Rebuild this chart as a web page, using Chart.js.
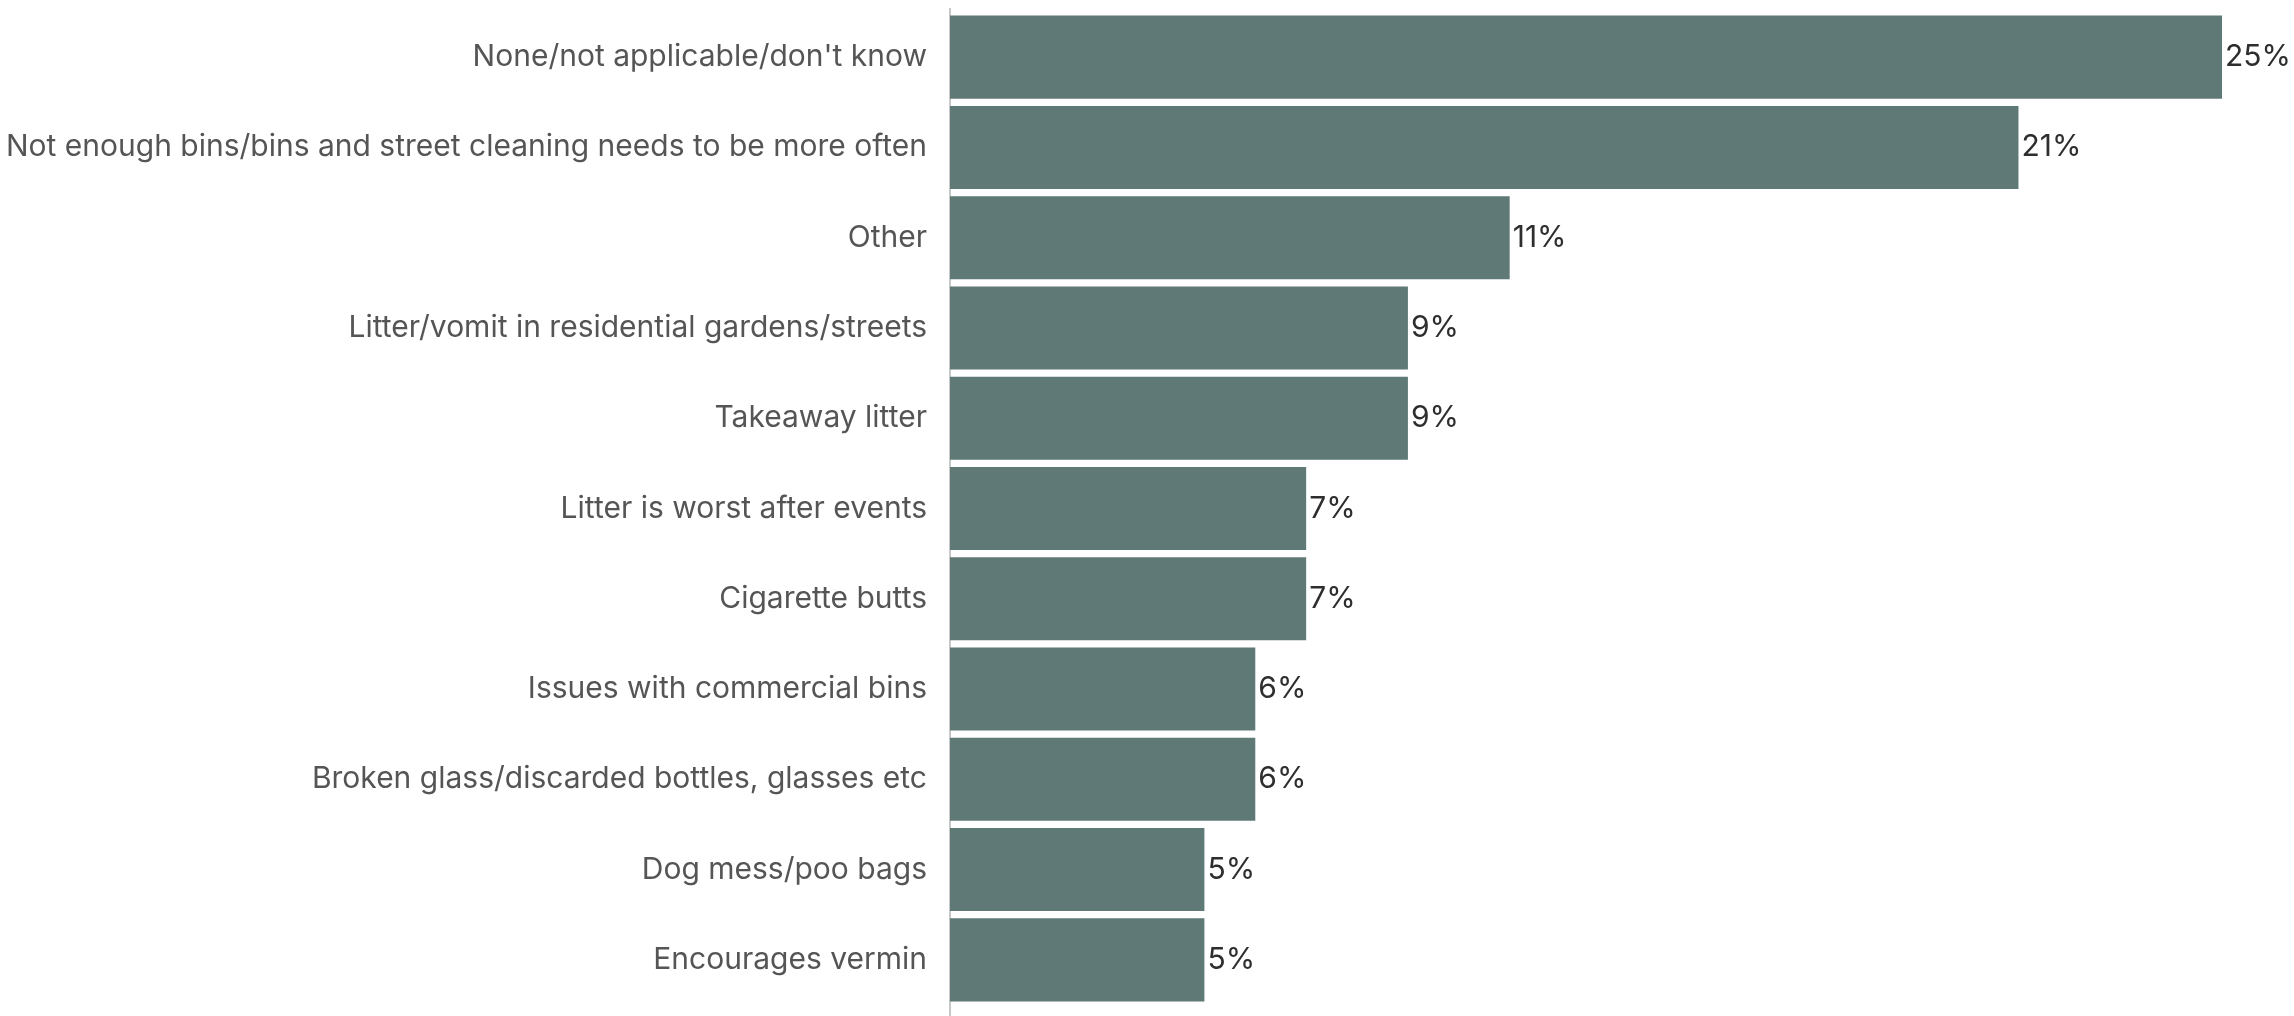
<!DOCTYPE html>
<html>
<head>
<meta charset="utf-8">
<script src="https://cdn.jsdelivr.net/npm/chart.js@4"></script>
<style>
  html, body { margin: 0; padding: 0; background: #fff; }
  #wrap { width: 2294px; height: 1016px; }
</style>
</head>
<body>
<div id="wrap"><canvas id="myChart"></canvas></div>
<script>
// categories + values (percent)
const categories = [
  "None/not applicable/don't know",
  "Not enough bins/bins and street cleaning needs to be more often",
  "Other",
  "Litter/vomit in residential gardens/streets",
  "Takeaway litter",
  "Litter is worst after events",
  "Cigarette butts",
  "Issues with commercial bins",
  "Broken glass/discarded bottles, glasses etc",
  "Dog mess/poo bags",
  "Encourages vermin"
];
const values = [25, 21, 11, 9, 9, 7, 7, 6, 6, 5, 5];
const xMax = 25;

const barColor = "#5f7977";

// draws the "25%" etc. next to each bar
const valueLabels = {
  id: "valueLabels",
  afterDatasetsDraw(chart) {
    const ctx = chart.ctx;
    const meta = chart.getDatasetMeta(0);
    ctx.save();
    ctx.font = "30px Inter";
    ctx.fillStyle = "#2e2e2e";
    ctx.textBaseline = "middle";
    ctx.textAlign = "left";
    meta.data.forEach((bar, i) => {
      ctx.fillText(values[i] + "%", bar.x + 3, bar.y);
    });
    ctx.restore();
  }
};

// grey axis line, runs a bit past the bars down to the bottom edge
const axisLine = {
  id: "axisLine",
  beforeDatasetsDraw(chart) {
    const ctx = chart.ctx;
    const x = chart.chartArea.left;
    ctx.save();
    ctx.strokeStyle = "#c8c8c8";
    ctx.lineWidth = 2;
    ctx.beginPath();
    ctx.moveTo(x, chart.chartArea.top - 4);
    ctx.lineTo(x, chart.height);
    ctx.stroke();
    ctx.restore();
  }
};

const ctx = document.getElementById("myChart").getContext("2d");
new Chart(ctx, {
  type: "bar",
  data: {
    labels: categories,
    datasets: [{
      data: values,
      backgroundColor: barColor,
      borderWidth: 0,
      categoryPercentage: 1,
      barPercentage: 0.92
    }]
  },
  options: {
    indexAxis: "y",
    responsive: true,
    maintainAspectRatio: false,
    animation: false,
    layout: { padding: { top: 12, right: 72, bottom: 11, left: 0 } },
    plugins: {
      legend: { display: false },
      tooltip: { enabled: false }
    },
    scales: {
      x: {
        display: false,
        min: 0,
        max: xMax
      },
      y: {
        grid: { display: false },
        border: { display: false },
        ticks: {
          color: "#555",
          padding: 15,
          font: { family: "Inter", size: 30 }
        },
        afterFit(scale) {
          scale.width = 950;
          // no extra room for half label heights, bars go edge to edge
          scale.paddingTop = 0;
          scale.paddingBottom = 0;
        }
      }
    }
  },
  plugins: [axisLine, valueLabels]
});
</script>
</body>
</html>
